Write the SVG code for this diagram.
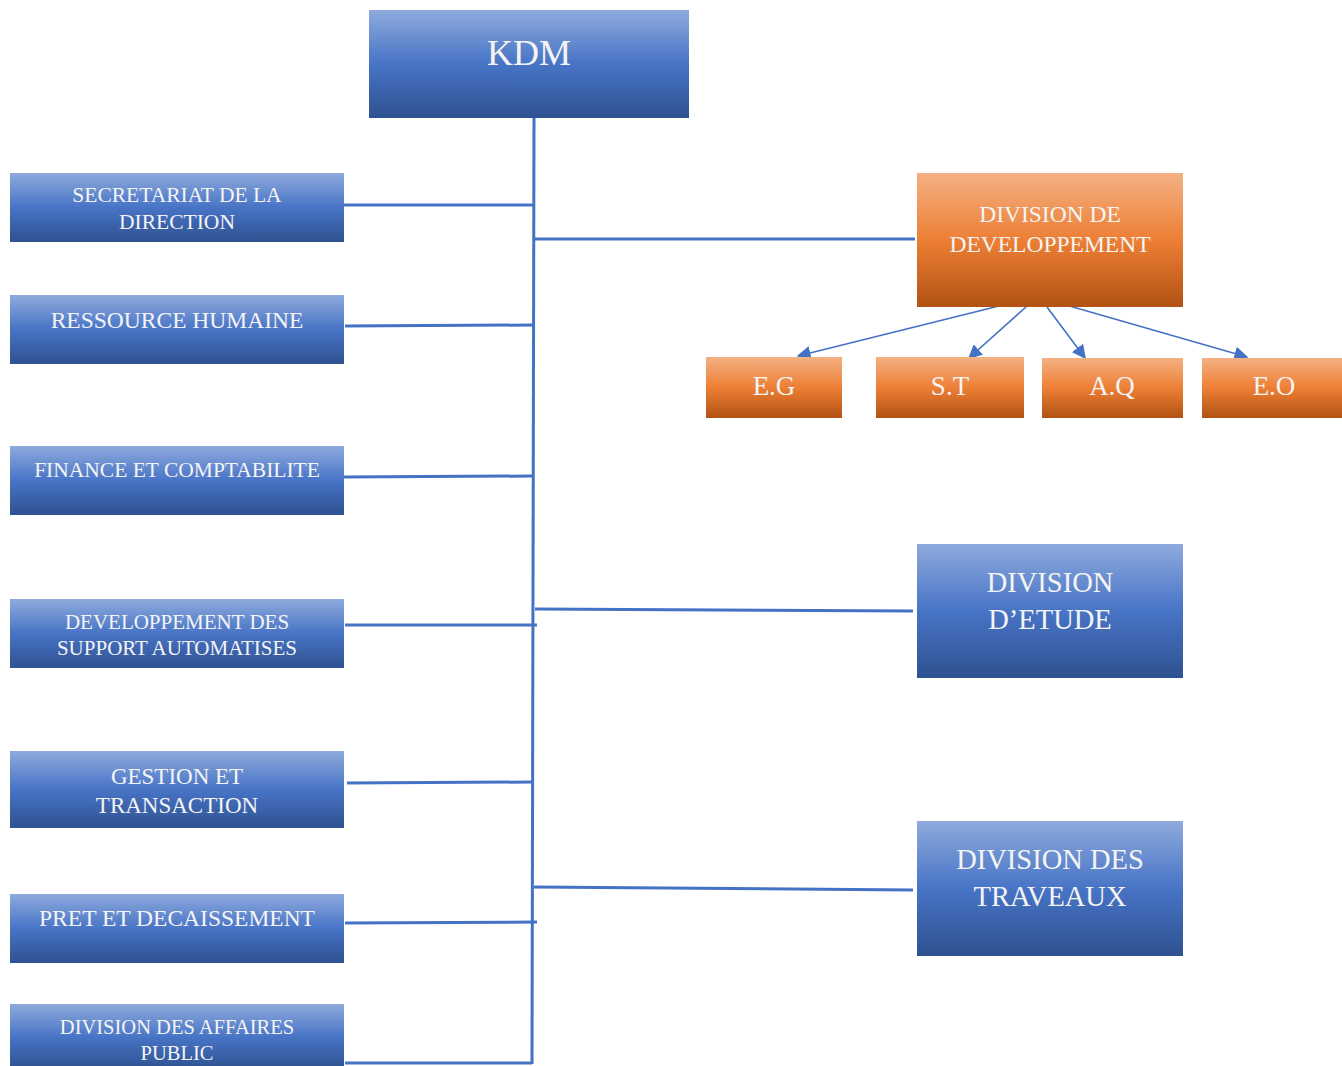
<svg xmlns="http://www.w3.org/2000/svg" width="1342" height="1066" viewBox="0 0 1342 1066">
<defs>
<linearGradient id="gb" x1="0" y1="0" x2="0" y2="1">
<stop offset="0" stop-color="#8eaadc"/>
<stop offset="0.5" stop-color="#4874c6"/>
<stop offset="1" stop-color="#2e5190"/>
</linearGradient>
<linearGradient id="go" x1="0" y1="0" x2="0" y2="1">
<stop offset="0" stop-color="#f4b183"/>
<stop offset="0.5" stop-color="#ed7f35"/>
<stop offset="1" stop-color="#b25213"/>
</linearGradient>
<marker id="ah2" viewBox="0 0 10 10" refX="9" refY="5" markerWidth="14" markerHeight="14" orient="auto" markerUnits="userSpaceOnUse">
<path d="M0,0 L10,5 L0,10 z" fill="#4472c4"/>
</marker>
</defs>
<style>
.b{fill:url(#gb)}
.o{fill:url(#go)}
text{font-family:"Liberation Serif","Times New Roman",serif;fill:#f4f4f4;text-anchor:middle}
.c{stroke:#4472c4;stroke-width:3;fill:none}
.a{stroke:#4472c4;stroke-width:1.6;fill:none;marker-end:url(#ah2)}
</style>
<rect width="1342" height="1066" fill="#ffffff"/>
<g id="connectors">
<path class="c" d="M534,118 L532,1064"/>
<path class="c" d="M344,205 L534,205"/>
<path class="c" d="M345,326 L533,325"/>
<path class="c" d="M344,477 L533,476"/>
<path class="c" d="M345,625 L537,625"/>
<path class="c" d="M347,783 L533,782"/>
<path class="c" d="M345,923 L537,922"/>
<path class="c" d="M345,1063 L532,1063"/>
<path class="c" d="M535,239 L915,239"/>
<path class="c" d="M535,609 L913,611"/>
<path class="c" d="M534,887 L913,890"/>
<path class="a" d="M1003,305 L798,356"/>
<path class="a" d="M1026,307 L969,358"/>
<path class="a" d="M1047,307 L1085,358"/>
<path class="a" d="M1066,305 L1247,357"/>
</g>
<g id="kdm"><rect class="b" x="369" y="10" width="320" height="108"/><text x="529" y="65" font-size="36">KDM</text></g>
<g id="secretariat"><rect class="b" x="10" y="173" width="334" height="69"/><text x="177" y="202" font-size="21.5">SECRETARIAT DE LA</text><text x="177" y="229" font-size="21.5">DIRECTION</text></g>
<g id="rh"><rect class="b" x="10" y="295" width="334" height="69"/><text x="177" y="328" font-size="23.5">RESSOURCE HUMAINE</text></g>
<g id="finance"><rect class="b" x="10" y="446" width="334" height="69"/><text x="177" y="477" font-size="21.5">FINANCE ET COMPTABILITE</text></g>
<g id="dsa"><rect class="b" x="10" y="599" width="334" height="69"/><text x="177" y="629" font-size="21">DEVELOPPEMENT DES</text><text x="177" y="655" font-size="21">SUPPORT AUTOMATISES</text></g>
<g id="gestion"><rect class="b" x="10" y="751" width="334" height="77"/><text x="177" y="784" font-size="23">GESTION ET</text><text x="177" y="813" font-size="23">TRANSACTION</text></g>
<g id="pret"><rect class="b" x="10" y="894" width="334" height="69"/><text x="177" y="926" font-size="23.5">PRET ET DECAISSEMENT</text></g>
<g id="affaires"><rect class="b" x="10" y="1004" width="334" height="66"/><text x="177" y="1034" font-size="20.5">DIVISION DES AFFAIRES</text><text x="177" y="1060" font-size="20.5">PUBLIC</text></g>
<g id="div-dev"><rect class="o" x="917" y="173" width="266" height="134"/><text x="1050" y="222" font-size="23.5">DIVISION DE</text><text x="1050" y="252" font-size="23.5">DEVELOPPEMENT</text></g>
<g id="eg"><rect class="o" x="706" y="357" width="136" height="61"/><text x="774" y="395" font-size="27">E.G</text></g>
<g id="st"><rect class="o" x="876" y="357" width="148" height="61"/><text x="950" y="395" font-size="27">S.T</text></g>
<g id="aq"><rect class="o" x="1042" y="358" width="141" height="60"/><text x="1112" y="395" font-size="27">A.Q</text></g>
<g id="eo"><rect class="o" x="1202" y="358" width="140" height="60"/><text x="1274" y="395" font-size="27">E.O</text></g>
<g id="div-etude"><rect class="b" x="917" y="544" width="266" height="134"/><text x="1050" y="592" font-size="28.5">DIVISION</text><text x="1050" y="629" font-size="28.5">D’ETUDE</text></g>
<g id="div-travaux"><rect class="b" x="917" y="821" width="266" height="135"/><text x="1050" y="869" font-size="28.5">DIVISION DES</text><text x="1050" y="906" font-size="28.5">TRAVEAUX</text></g>
</svg>
